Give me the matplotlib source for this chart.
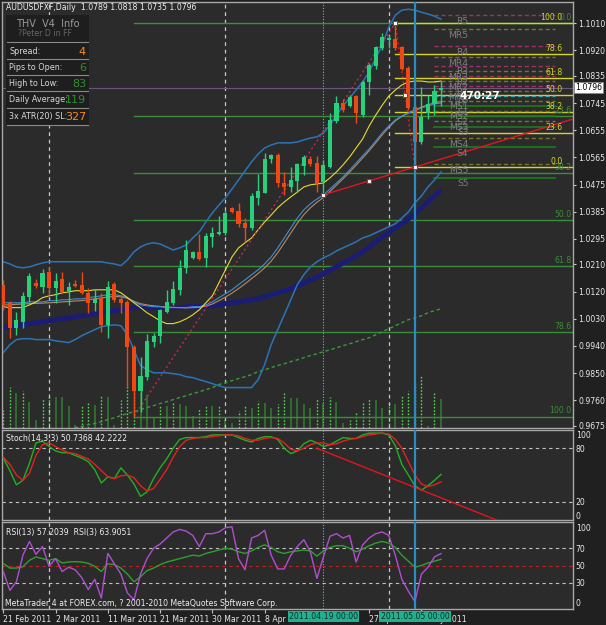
import numpy as np
import matplotlib.pyplot as plt
from matplotlib.patches import Rectangle
from matplotlib.lines import Line2D
from matplotlib.transforms import blended_transform_factory

W, H = 606, 625
BG = "#2b2b2b"
FRAME = "#a8a8a8"
BULL = "#28d07c"
BEAR = "#f04812"

# AUDUSD daily candles, 21 Feb 2011 .. 10 May 2011 (MT4 with Sunday bars)
opens = [1.0143, 1.0083, 1.0000, 1.0020, 1.0103, 1.0149, 1.0136, 1.0186, 1.0133, 1.0163,
         1.0123, 1.0146, 1.0143, 1.0116, 1.0083, 1.0100, 1.0010, 1.0146, 1.0096, 1.0086,
         0.9937, 0.9792, 0.9838, 0.9954, 0.9974, 1.0053, 1.0083, 1.0126, 1.0199, 1.0232,
         1.0252, 1.0232, 1.0302, 1.0312, 1.0315, 1.0398, 1.0388, 1.0348, 1.0331, 1.0431,
         1.0447, 1.0560, 1.0573, 1.0480, 1.0467, 1.0487, 1.0537, 1.0560, 1.0547, 1.0484,
         1.0533, 1.0686, 1.0745, 1.0735, 1.0768, 1.0705, 1.0815, 1.0868, 1.0927, 1.0954,
         1.0957, 1.0930, 1.0861, 1.0732, 1.0616, 1.0712, 1.0742, 1.0789]
highs = [1.0159, 1.0090, 1.0053, 1.0120, 1.0182, 1.0163, 1.0196, 1.0202, 1.0182, 1.0186,
         1.0153, 1.0159, 1.0186, 1.0133, 1.0129, 1.0116, 1.0156, 1.0153, 1.0110, 1.0093,
         0.9944, 0.9904, 0.9981, 0.9984, 1.0063, 1.0126, 1.0156, 1.0225, 1.0292, 1.0255,
         1.0312, 1.0315, 1.0335, 1.0371, 1.0391, 1.0401, 1.0414, 1.0364, 1.0447, 1.0510,
         1.0580, 1.0576, 1.0580, 1.0517, 1.0533, 1.0547, 1.0573, 1.0570, 1.0570, 1.0556,
         1.0712, 1.0768, 1.0758, 1.0772, 1.0772, 1.0821, 1.0878, 1.0934, 1.0977, 1.0970,
         1.1010, 1.0934, 1.0868, 1.0742, 1.0798, 1.0772, 1.0805, 1.0818]
lows = [1.0060, 0.9967, 0.9977, 1.0000, 1.0086, 1.0133, 1.0116, 1.0110, 1.0083, 1.0116,
        1.0076, 1.0136, 1.0113, 1.0050, 1.0057, 0.9987, 0.9967, 1.0086, 1.0050, 0.9800,
        0.9706, 0.9722, 0.9828, 0.9937, 0.9951, 1.0050, 1.0076, 1.0110, 1.0182, 1.0229,
        1.0225, 1.0202, 1.0268, 1.0308, 1.0308, 1.0381, 1.0335, 1.0285, 1.0325, 1.0407,
        1.0447, 1.0547, 1.0467, 1.0441, 1.0451, 1.0451, 1.0507, 1.0537, 1.0451, 1.0441,
        1.0530, 1.0679, 1.0715, 1.0732, 1.0679, 1.0699, 1.0772, 1.0858, 1.0921, 1.0927,
        1.0921, 1.0854, 1.0722, 1.0533, 1.0609, 1.0692, 1.0705, 1.0735]
closes = [1.0076, 1.0000, 1.0027, 1.0106, 1.0172, 1.0139, 1.0182, 1.0133, 1.0156, 1.0120,
          1.0136, 1.0139, 1.0116, 1.0083, 1.0096, 1.0010, 1.0136, 1.0093, 1.0083, 0.9937,
          0.9792, 0.9841, 0.9957, 0.9974, 1.0060, 1.0086, 1.0129, 1.0199, 1.0259, 1.0252,
          1.0229, 1.0305, 1.0315, 1.0318, 1.0381, 1.0384, 1.0345, 1.0331, 1.0437, 1.0454,
          1.0560, 1.0573, 1.0480, 1.0467, 1.0490, 1.0543, 1.0566, 1.0543, 1.0480, 1.0540,
          1.0689, 1.0745, 1.0722, 1.0765, 1.0712, 1.0815, 1.0871, 1.0930, 1.0964, 1.0960,
          1.0927, 1.0858, 1.0729, 1.0616, 1.0699, 1.0742, 1.0785, 1.0796]
volumes = [1800, 4100, 3500, 3700, 2600, 800, 3000, 3400, 3100, 3100,
           2200, 300, 2200, 2500, 2300, 3200, 3100, 300, 2800, 4400,
           4500, 3500, 3300, 1000, 2200, 2200, 2600, 2400, 2200, 1200,
           2000, 2200, 2200, 2300, 800, 500, 1700, 2300, 2000, 2700,
           2500, 2000, 2400, 3500, 3000, 3000, 2400, 2000, 3000, 2500,
           3100, 2600, 500, 800, 1600, 2500, 2900, 2800, 2000, 2500,
           2400, 3300, 3700, 4500, 5200, 200, 3600, 2900]

# chart indicators
bb_upper = [1.0219, 1.0212, 1.0202, 1.0199, 1.0202, 1.0209, 1.0215, 1.0219, 1.0219, 1.0219,
            1.0219, 1.0219, 1.0219, 1.0219, 1.0219, 1.0219, 1.0215, 1.0212, 1.0206, 1.0225,
            1.0252, 1.0268, 1.0278, 1.0282, 1.0278, 1.0268, 1.0258, 1.0265, 1.0275, 1.0298,
            1.0318, 1.0351, 1.0381, 1.0407, 1.0431, 1.0460, 1.0490, 1.0520, 1.0550, 1.0576,
            1.0596, 1.0606, 1.0613, 1.0613, 1.0613, 1.0616, 1.0623, 1.0629, 1.0633, 1.0646,
            1.0672, 1.0705, 1.0735, 1.0762, 1.0788, 1.0815, 1.0848, 1.0894, 1.0937, 1.0997,
            1.1036, 1.1053, 1.1056, 1.1053, 1.1046, 1.1040, 1.1033, 1.1023]
bb_lower = [0.9918, 0.9944, 0.9961, 0.9964, 0.9964, 0.9961, 0.9961, 0.9961, 0.9957, 0.9954,
            0.9951, 0.9961, 0.9974, 0.9984, 0.9994, 1.0004, 1.0007, 1.0010, 1.0007, 0.9977,
            0.9927, 0.9875, 0.9861, 0.9851, 0.9851, 0.9851, 0.9848, 0.9845, 0.9838, 0.9835,
            0.9828, 0.9822, 0.9815, 0.9808, 0.9802, 0.9802, 0.9802, 0.9802, 0.9802, 0.9828,
            0.9878, 0.9944, 0.9994, 1.0043, 1.0093, 1.0143, 1.0176, 1.0202, 1.0219, 1.0232,
            1.0242, 1.0255, 1.0265, 1.0275, 1.0285, 1.0298, 1.0305, 1.0315, 1.0325, 1.0335,
            1.0345, 1.0364, 1.0384, 1.0414, 1.0437, 1.0467, 1.0490, 1.0517]
ma_blue = [1.0083, 1.0083, 1.0083, 1.0083, 1.0086, 1.0086, 1.0086, 1.0090, 1.0090, 1.0093,
           1.0093, 1.0096, 1.0096, 1.0100, 1.0103, 1.0106, 1.0110, 1.0110, 1.0106, 1.0100,
           1.0086, 1.0076, 1.0073, 1.0070, 1.0070, 1.0067, 1.0067, 1.0067, 1.0067, 1.0070,
           1.0070, 1.0076, 1.0086, 1.0100, 1.0113, 1.0126, 1.0143, 1.0159, 1.0176, 1.0192,
           1.0212, 1.0235, 1.0265, 1.0298, 1.0331, 1.0364, 1.0391, 1.0411, 1.0427, 1.0441,
           1.0460, 1.0480, 1.0500, 1.0523, 1.0546, 1.0570, 1.0593, 1.0619, 1.0646, 1.0669,
           1.0689, 1.0702, 1.0712, 1.0719, 1.0729, 1.0735, 1.0742, 1.0745]
ma_tan = [1.0076, 1.0076, 1.0078, 1.0079, 1.0080, 1.0081, 1.0082, 1.0083, 1.0084, 1.0086,
          1.0087, 1.0089, 1.0090, 1.0093, 1.0096, 1.0099, 1.0102, 1.0104, 1.0103, 1.0098,
          1.0088, 1.0080, 1.0076, 1.0073, 1.0071, 1.0069, 1.0068, 1.0067, 1.0066, 1.0067,
          1.0068, 1.0072, 1.0079, 1.0090, 1.0102, 1.0115, 1.0130, 1.0146, 1.0163, 1.0180,
          1.0199, 1.0221, 1.0249, 1.0281, 1.0314, 1.0347, 1.0375, 1.0398, 1.0416, 1.0432,
          1.0452, 1.0473, 1.0494, 1.0516, 1.0539, 1.0563, 1.0587, 1.0613, 1.0640, 1.0664,
          1.0686, 1.0701, 1.0713, 1.0722, 1.0732, 1.0739, 1.0746, 1.0750]
ma_yellow = [1.0070, 1.0067, 1.0067, 1.0067, 1.0076, 1.0086, 1.0100, 1.0106, 1.0110, 1.0116,
             1.0119, 1.0123, 1.0123, 1.0123, 1.0126, 1.0126, 1.0126, 1.0126, 1.0116, 1.0100,
             1.0083, 1.0067, 1.0050, 1.0037, 1.0023, 1.0014, 1.0014, 1.0020, 1.0030, 1.0043,
             1.0060, 1.0083, 1.0106, 1.0149, 1.0192, 1.0235, 1.0265, 1.0282, 1.0298, 1.0325,
             1.0351, 1.0374, 1.0398, 1.0417, 1.0434, 1.0450, 1.0467, 1.0474, 1.0477, 1.0480,
             1.0497, 1.0517, 1.0540, 1.0566, 1.0596, 1.0626, 1.0669, 1.0705, 1.0738, 1.0768,
             1.0788, 1.0805, 1.0815, 1.0818, 1.0818, 1.0815, 1.0815, 1.0818]
ma_navy = [1.0000, 1.0004, 1.0007, 1.0010, 1.0014, 1.0017, 1.0020, 1.0023, 1.0027, 1.0030,
           1.0033, 1.0037, 1.0040, 1.0043, 1.0047, 1.0050, 1.0053, 1.0057, 1.0060, 1.0063,
           1.0067, 1.0067, 1.0067, 1.0067, 1.0067, 1.0067, 1.0067, 1.0067, 1.0070, 1.0070,
           1.0070, 1.0073, 1.0073, 1.0076, 1.0080, 1.0083, 1.0086, 1.0090, 1.0093, 1.0096,
           1.0103, 1.0110, 1.0116, 1.0123, 1.0129, 1.0139, 1.0149, 1.0159, 1.0169, 1.0179,
           1.0192, 1.0202, 1.0215, 1.0225, 1.0239, 1.0252, 1.0268, 1.0285, 1.0302, 1.0315,
           1.0331, 1.0345, 1.0361, 1.0378, 1.0398, 1.0417, 1.0437, 1.0457]
ma_long = [np.nan] * 10 + [
    0.9663, 0.9669, 0.9673, 0.9679, 0.9683, 0.9689, 0.9696, 0.9702, 0.9709, 0.9716,
    0.9722, 0.9729, 0.9736, 0.9742, 0.9749, 0.9755, 0.9762, 0.9769, 0.9775, 0.9782,
    0.9788, 0.9795, 0.9802, 0.9812, 0.9818, 0.9825, 0.9832, 0.9838, 0.9845, 0.9855,
    0.9861, 0.9868, 0.9875, 0.9881, 0.9888, 0.9894, 0.9901, 0.9908, 0.9914, 0.9921,
    0.9927, 0.9934, 0.9941, 0.9947, 0.9954, 0.9961, 0.9967, 0.9977, 0.9987, 0.9997,
    1.0007, 1.0017, 1.0027, 1.0033, 1.0040, 1.0050, 1.0057, 1.0063]

stoch_k = [69, 55, 39, 44, 63, 86, 88, 82, 77, 75, 75, 72, 69, 65, 56, 41, 48, 46, 58, 50,
           40, 26, 31, 46, 58, 68, 80, 90, 92, 92, 92, 93, 95, 95, 95, 95, 92, 89, 87, 91,
           93, 93, 90, 80, 74, 77, 85, 89, 86, 82, 84, 88, 92, 91, 91, 95, 97, 97, 97, 95,
           83, 62, 50, 38, 33, 38, 44, 50.7368]
stoch_d = [70, 62, 50, 44, 52, 72, 84, 86, 82, 78, 75, 74, 71, 68, 62, 55, 48, 46, 49, 50,
           47, 38, 32, 35, 45, 56, 70, 82, 89, 91, 92, 92, 93, 94, 95, 95, 94, 91, 89, 89,
           91, 92, 91, 86, 79, 77, 80, 84, 86, 86, 84, 85, 88, 90, 91, 93, 95, 96, 97, 96,
           90, 80, 65, 50, 40, 37, 39, 42.2222]
rsi13 = [52.5, 47, 47, 48.6, 56, 60, 58, 56, 58, 53, 54, 54.5, 54, 52.5, 49, 43, 52, 51, 47, 40,
         31, 37, 44, 47, 51, 54, 56, 58, 60, 62, 61, 64, 66, 68, 70, 69, 66, 64, 67, 71,
         74, 71, 66, 64, 66, 67, 68, 67, 61, 67, 71, 73, 73, 70, 66, 69, 73, 76, 78, 76,
         71, 62, 55, 48, 50, 53, 55, 57.2039]
rsi3 = [43, 21, 31, 62, 78, 63, 72, 49, 58, 43, 48, 45, 36, 22, 34, 12, 64, 52, 40, 18,
        10, 40, 58, 70, 75, 82, 89, 92, 90, 85, 72, 87, 87, 89, 94, 95, 58, 45, 82, 85,
        91, 62, 46, 46, 62, 72, 80, 66, 35, 60, 84, 87, 82, 85, 54, 74, 82, 87, 89, 85,
        62, 34, 20, 8, 40, 48, 60, 63.9051]

price_ticks = [1.1010, 1.0920, 1.0835, 1.0745, 1.0655, 1.0565, 1.0475, 1.0385, 1.0295,
               1.0210, 1.0120, 1.0030, 0.9940, 0.9850, 0.9760, 0.9675]
date_bars = [0, 8, 16, 24, 32, 40, 56, 64]
date_labels = ["21 Feb 2011", "2 Mar 2011", "11 Mar 2011", "21 Mar 2011",
               "30 Mar 2011", "8 Apr 2011", "27 Apr 2011", "6 May 2011"]
grid_bars = [7, 34, 59]
marked_bars = [49, 63]
marked_labels = ["2011.04.19 00:00", "2011.05.05 00:00"]

# fibonacci retracements: (low bar, high bar)
fib_big = (20, 60)
fib_small = (63, 60)
fib_pcts = [0.0, 23.6, 38.2, 50.0, 61.8, 78.6, 100.0]

pivot_names = ["R5", "MR5", "R4", "MR4", "R3", "MR3", "R2", "MR2", "R1", "MR1", "PP",
               "MS1", "S1", "MS2", "S2", "MS3", "S3", "MS4", "S4", "MS5", "S5"]
pivot_levels = [1.1036, 1.0990, 1.0934, 1.0897, 1.0868, 1.0851, 1.0834, 1.0818, 1.0801,
                1.0785, 1.0768, 1.0752, 1.0735, 1.0719, 1.0702, 1.0685, 1.0666, 1.0629,
                1.0599, 1.0543, 1.0497]

trend_bars = [49, 56, 63]
stoch_trend_bars = [48, 76]
stoch_trend_vals = [80, -2]

info_rows = [("Spread:", "4", "#ff8a1e"), ("Pips to Open:", "6", "#2f8f2f"),
             ("High to Low:", "83", "#2f8f2f"), ("Daily Average:", "119", "#2f8f2f"),
             ("3x ATR(20) SL:", "327", "#ff8a1e")]

bars = np.arange(len(closes))
o, h, l, c = map(np.array, (opens, highs, lows, closes))
XLIM = (-0.2, 87.2)

fig = plt.figure(figsize=(W / 100, H / 100), dpi=100, facecolor="#202020")


def panel(top, bottom):
    a = fig.add_axes([2 / W, 1 - bottom / H, 571 / W, (bottom - top) / H])
    a.set_facecolor(BG)
    for s in a.spines.values():
        s.set_color(FRAME)
        s.set_linewidth(1)
    a.set_xlim(*XLIM)
    a.yaxis.tick_right()
    a.tick_params(axis="y", colors="#c8c8c8", labelcolor="#e8e8e8", labelsize=5.6,
                  length=2, pad=2)
    a.tick_params(axis="x", bottom=False, labelbottom=False)
    for g in grid_bars:
        a.axvline(g, color="#c8c8c8", lw=0.9, dashes=(3, 3), zorder=1)
    a.axvline(marked_bars[0], color="#3cc4e0", lw=0.8, ls=(0, (1, 1.5)), zorder=1)
    a.axvline(marked_bars[1], color="#2a8cc0", lw=1.6, zorder=6)
    return a


def px(x, y):
    return x / W, 1 - y / H


ax = panel(2, 428)
ax.set_ylim(0.9668, 1.1080)

# volumes behind the candles
vol = ax.inset_axes([0, 0, 1, 1])
vol.set_zorder(0.5)
vol.patch.set_alpha(0)
vol.axis("off")
vol.set_xlim(*XLIM)
vol.set_ylim(0, 42600)
rising = np.r_[True, np.diff(volumes) > 0]
vol.vlines(bars[~rising], 0, np.array(volumes)[~rising], color="#2f7a2f", lw=1.2)
vol.vlines(bars[rising], 0, np.array(volumes)[rising], color="#4fd84f", lw=1,
           linestyles=(0, (1.2, 1.2)))

# bid line
ax.axhline(closes[-1], color="#6a5878", lw=0.8, zorder=1)

# fibonacci levels
lo_b, hi_b = fib_big
big_lo, big_hi = lows[lo_b], highs[hi_b]
for p in fib_pcts:
    lvl = big_hi - (big_hi - big_lo) * p / 100
    ax.plot([lo_b, XLIM[1]], [lvl, lvl], color="#3c8c3c", lw=1, zorder=1.5)
    ax.text(87.0, lvl + 0.0004, f"{p:.1f}", color="#3c8c3c", fontsize=5.6,
            ha="right", va="bottom", zorder=7)
lo_s, hi_s = fib_small
sm_lo, sm_hi = lows[lo_s], highs[hi_s]
for p in fib_pcts:
    lvl = sm_lo + (sm_hi - sm_lo) * p / 100
    ax.plot([hi_s, XLIM[1]], [lvl, lvl], color="#d6d620", lw=1, zorder=1.6)
    ax.text(85.6, lvl + 0.0004, f"{p:.1f}", color="#d6d620", fontsize=5.6,
            ha="right", va="bottom", zorder=7)
ax.plot([lo_b, hi_b], [big_lo, big_hi], color="#c02a5a", lw=1, ls=(0, (1.5, 2)), zorder=3)
ax.plot([hi_s, lo_s], [sm_hi, sm_lo], color="#e02020", lw=1, ls=(0, (1.5, 2)), zorder=3)

# pivot levels
pivot_colors = {"R": "#a0306c", "M": "#76762e", "P": "#30a8b0", "S": "#1e7a1e"}
for name, lvl in zip(pivot_names, pivot_levels):
    col = pivot_colors[name[0]]
    ls = "-" if name[0] == "S" else (0, (3, 2))
    ax.plot([66.0, 84.4], [lvl, lvl], color=col, lw=1.2 if name[0] == "S" else 1,
            ls=ls, zorder=1.7)
    ax.text(71.2, lvl - 0.0005, name, color="#7e7e7e", fontsize=6.6, ha="right",
            va="top", zorder=7)

# moving averages and bands
ax.plot(bars, ma_long, color="#3a9a3a", lw=1, ls=(0, (2.5, 2)), zorder=2)
ax.plot(bars, ma_navy, color="#1b1c74", lw=3.6, zorder=2, solid_capstyle="butt")
ax.plot(bars, bb_upper, color="#2a74b8", lw=1.1, zorder=2)
ax.plot(bars, bb_lower, color="#2a74b8", lw=1.1, zorder=2)
ax.plot(bars, ma_tan, color="#b88a5e", lw=0.8, zorder=2)
ax.plot(bars, ma_blue, color="#3f90d6", lw=0.8, zorder=2)
ax.plot(bars, ma_yellow, color="#e4dc30", lw=0.8, zorder=2)

# candles
cols = np.where(c >= o, BULL, BEAR)
ax.vlines(bars, l, h, colors=cols, lw=1, zorder=4)
ax.bar(bars, np.maximum(np.abs(c - o), 0.00025), bottom=np.minimum(o, c), width=0.62,
       color=cols, linewidth=0, zorder=5)

# red trend line through the two lows, extended to the right edge
t0, t2 = trend_bars[0], trend_bars[2]
slope = (lows[t2] - lows[t0]) / (t2 - t0)
ax.plot([t0, XLIM[1]], [lows[t0], lows[t0] + slope * (XLIM[1] - t0)],
        color="#e41420", lw=1, zorder=6)
ax.plot(trend_bars, [lows[t0] + slope * (b - t0) for b in trend_bars], "s", ms=3,
        mfc="white", mec="#e41420", mew=0.8, zorder=8)
ax.plot([hi_s, (hi_s + lo_s) / 2], [sm_hi, (sm_hi + sm_lo) / 2], "s", ms=2.6,
        mfc="white", mec="#e41420", mew=0.7, zorder=8)

ax.set_yticks(price_ticks)
ax.set_yticklabels([f"{t:.4f}" for t in price_ticks])
ax.text(1.004, closes[-1], f"{closes[-1]:.4f}", transform=blended_transform_factory(
    ax.transAxes, ax.transData), fontsize=5.6, color="black", va="center", ha="left",
    bbox=dict(fc="white", ec="#888888", lw=0.5, pad=0.8), zorder=10, clip_on=False)

# stochastic
st = panel(430, 520)
st.set_ylim(-0.5, 100.5)
for lv in (80, 20):
    st.axhline(lv, color="#c0c0c0", lw=0.8, dashes=(3, 3), zorder=1)
st.plot(bars, stoch_k, color="#22b022", lw=1, zorder=3)
st.plot(bars, stoch_d, color="#e42020", lw=1, zorder=3)
st.plot(stoch_trend_bars, stoch_trend_vals, color="#e41420", lw=1, zorder=4)
st.set_yticks([95, 80, 20, 5])
st.set_yticklabels(["100", "80", "20", "0"])
st.tick_params(axis="y", length=0)

# rsi
rs = panel(522, 609)
rs.set_ylim(-0.6, 100.6)
for lv in (70, 30):
    rs.axhline(lv, color="#c0c0c0", lw=0.8, dashes=(3, 3), zorder=1)
rs.axhline(50, color="#c02020", lw=0.8, dashes=(3, 3), zorder=1)
rs.plot(bars, rsi13, color="#2f9f2f", lw=1, zorder=3)
rs.plot(bars, rsi3, color="#b04ed0", lw=1, zorder=3)
rs.set_yticks([94, 70, 50, 30, 7])
rs.set_yticklabels(["100", "70", "50", "30", "0"])
rs.tick_params(axis="y", length=0)
rs.set_xticks(date_bars)
rs.set_xticklabels(date_labels, ha="left")
rs.tick_params(axis="x", bottom=True, labelbottom=True, direction="out", length=3,
               color="#c0c0c0", labelcolor="#e8e8e8", labelsize=5.6, pad=1)
dtrans = blended_transform_factory(rs.transData, fig.transFigure)
for b, txt in zip(marked_bars, marked_labels):
    rs.text(b, 1 - 616.5 / H, txt, transform=dtrans, ha="center", va="center",
            fontsize=5.6, color="#0d2e26", zorder=10, clip_on=False,
            bbox=dict(fc="#22b08e", ec="none", pad=0.9))

# texts
fig.text(*px(6, 8), "AUDUSDFXF,Daily  1.0789 1.0818 1.0735 1.0796", color="#f0f0f0",
         fontsize=5.6, va="center")
fig.text(*px(6, 438), "Stoch(14,3,3) 50.7368 42.2222", color="#f0f0f0", fontsize=5.6,
         va="center")
fig.text(*px(6, 532), "RSI(13) 57.2039  RSI(3) 63.9051", color="#f0f0f0", fontsize=5.6,
         va="center")
fig.text(*px(5, 604), "MetaTrader 4 at FOREX.com, ? 2001-2010 MetaQuotes Software Corp.",
         color="#f0f0f0", fontsize=5.6, va="center")
fig.text(*px(459, 96), "470:27", color="white", fontsize=7.5, fontweight="bold",
         va="center", zorder=10)

# info panel
fig.patches.append(Rectangle(px(6, 125), 83 / W, 110 / H, transform=fig.transFigure,
                             fc="#1e1e1e", ec="none", zorder=5))
fig.text(*px(16, 24), "THV  V4  Info", color="#9a9a9a", fontsize=7, va="center", zorder=6)
fig.text(*px(18, 34), "?Peter D in FF", color="#666666", fontsize=5.6, va="center",
         zorder=6)
row_y = [52, 68, 84, 100, 117]
for y in [42, 59, 75, 91, 108, 125]:
    fig.add_artist(Line2D([7 / W, 88 / W], [1 - y / H] * 2, color="#8a8a8a", lw=0.8,
                          zorder=6))
for (lab, val, col), y in zip(info_rows, row_y):
    fig.text(*px(9, y), lab, color="#d8d8d8", fontsize=5.8, va="center", zorder=6)
    fig.text(*px(86, y), val, color=col, fontsize=8, va="center", ha="right", zorder=6)

fig.savefig("out.png", dpi=100, facecolor=fig.get_facecolor())
